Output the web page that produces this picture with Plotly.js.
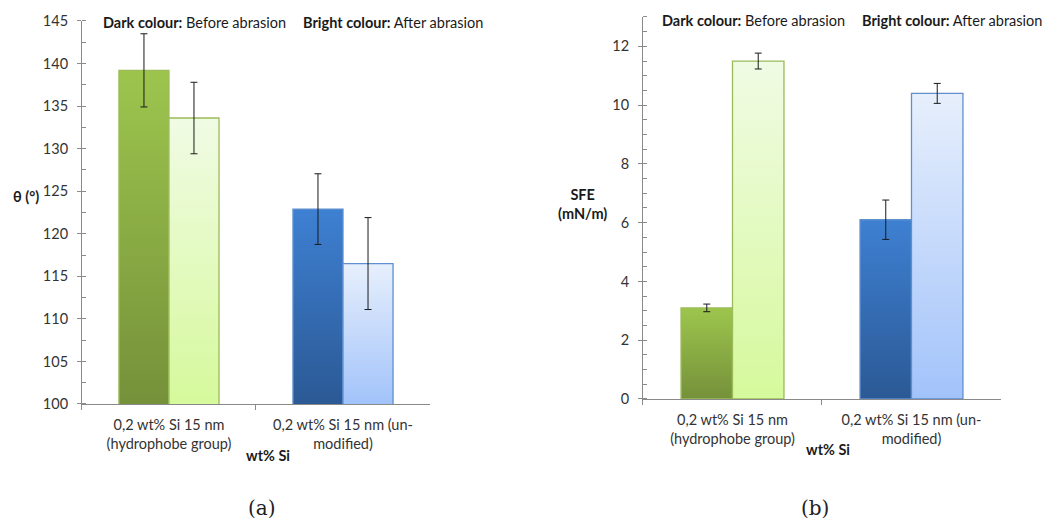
<!DOCTYPE html>
<html>
<head>
<meta charset="utf-8">
<script src="https://cdn.plot.ly/plotly-3.0.1.min.js"></script>
<style>
  html, body { margin: 0; padding: 0; background: #ffffff; }
  #chart { width: 1044px; height: 521px; }
</style>
</head>
<body>
<div id="chart"></div>
<script>
// Silica coatings: water contact angle and surface free energy, before and after abrasion
const categories = [
  '0,2 wt% Si 15 nm<br>(hydrophobe group)',
  '0,2 wt% Si 15 nm (un-<br>modified)'
];

// (a) contact angle θ (°)
const angleBefore    = [139.2, 122.9];
const angleBeforeErr = [4.3, 4.15];
const angleAfter     = [133.6, 116.5];
const angleAfterErr  = [4.2, 5.4];

// (b) surface free energy (mN/m)
const sfeBefore    = [3.1, 6.1];
const sfeBeforeErr = [0.13, 0.67];
const sfeAfter     = [11.5, 10.4];
const sfeAfterErr  = [0.27, 0.34];

// Vertical gradients [top, bottom] per group: dark = before, bright = after
const darkShades   = [['#9dc54d', '#75913a'], ['#3e80d2', '#2b5995']];
const brightShades = [['#f0fbe4', '#d6f99c'], ['#e7effc', '#a2c3fa']];
const outlineColors = ['#9bbb59', '#5f8fcf'];

const FONT = 'Lato, "Open Sans", sans-serif';
const FS = 14.5;
const TEXT = '#333333';
const AXIS = '#8a8a8a';

function barTrace(y, err, shades, xa, ya, name) {
  return {
    type: 'bar', x: categories, y: y, name: name, xaxis: xa, yaxis: ya,
    marker: {
      color: shades.map(s => s[0]),
      line: { color: outlineColors, width: 1.3 }
    },
    error_y: { type: 'data', array: err, visible: true, color: '#1a1a1a', thickness: 1, width: 3.5 },
    hoverinfo: 'y', showlegend: false
  };
}

const traces = [
  barTrace(angleBefore, angleBeforeErr, darkShades, 'x', 'y', 'Before abrasion'),
  barTrace(angleAfter, angleAfterErr, brightShades, 'x', 'y', 'After abrasion'),
  barTrace(sfeBefore, sfeBeforeErr, darkShades, 'x2', 'y2', 'Before abrasion'),
  barTrace(sfeAfter, sfeAfterErr, brightShades, 'x2', 'y2', 'After abrasion')
];
const shadesByTrace = [darkShades, brightShades, darkShades, brightShades];

const xCommon = {
  type: 'category', showline: true, linecolor: AXIS, linewidth: 1,
  ticks: 'outside', tickson: 'boundaries', ticklen: 5, tickcolor: AXIS,
  ticklabelstandoff: 8,
  showgrid: false, zeroline: false, fixedrange: true,
  tickfont: { family: FONT, size: FS, color: TEXT }
};
const yCommon = {
  showline: true, linecolor: AXIS, linewidth: 1,
  ticks: 'outside', ticklen: 4, tickcolor: AXIS,
  ticklabelstandoff: 6,
  showgrid: false, zeroline: false, fixedrange: true,
  tickfont: { family: FONT, size: FS, color: TEXT }
};
// inner half of the crossing major ticks
const yCross = {
  showline: false, showgrid: false, zeroline: false, showticklabels: false,
  ticks: 'inside', ticklen: 4, tickcolor: AXIS, fixedrange: true, side: 'left'
};

const layout = {
  width: 1044, height: 521, autosize: false,
  margin: { l: 0, r: 0, t: 0, b: 0 },
  paper_bgcolor: '#ffffff', plot_bgcolor: 'rgba(0,0,0,0)',
  barmode: 'group', bargap: 0.425, bargroupgap: 0,
  font: { family: FONT, size: FS, color: TEXT },
  xaxis: Object.assign({}, xCommon, { domain: [0.0785, 0.4119], anchor: 'y' }),
  yaxis: Object.assign({}, yCommon, {
    domain: [0.2246, 0.9597], anchor: 'x', range: [100, 145], dtick: 5, tick0: 100,
    minor: { dtick: 2.5, ticks: 'inside', ticklen: 4, tickcolor: AXIS, showgrid: false }
  }),
  yaxis3: Object.assign({}, yCross, { overlaying: 'y', anchor: 'x', range: [100, 145], dtick: 5, tick0: 100 }),
  xaxis2: Object.assign({}, xCommon, { domain: [0.6159, 0.9588], anchor: 'y2' }),
  yaxis2: Object.assign({}, yCommon, {
    domain: [0.2342, 0.9674], anchor: 'x2', range: [0, 13], dtick: 2, tick0: 0,
    minor: { dtick: 0.5, ticks: 'inside', ticklen: 4, tickcolor: AXIS, showgrid: false }
  }),
  yaxis4: Object.assign({}, yCross, { overlaying: 'y2', anchor: 'x2', range: [0, 13], dtick: 2, tick0: 0 }),
  annotations: [
    { text: '<b>Dark colour:</b> Before abrasion', x: 0.0967, y: 0.956 },
    { text: '<b>Bright colour:</b> After abrasion', x: 0.2883, y: 0.956 },
    { text: '<b>Dark colour:</b> Before abrasion', x: 0.6322, y: 0.960 },
    { text: '<b>Bright colour:</b> After abrasion', x: 0.8238, y: 0.960 },
    { text: '<b>θ (°)</b>', x: 0.0249, y: 0.622, xanchor: 'center' },
    { text: '<b>SFE<br>(mN/m)</b>', x: 0.5584, y: 0.608, xanchor: 'center' },
    { text: '<b>wt% Si</b>', x: 0.2567, y: 0.125, xanchor: 'center' },
    { text: '<b>wt% Si</b>', x: 0.7931, y: 0.138, xanchor: 'center' },
    { text: '(a)', x: 0.2510, y: 0.025, xanchor: 'center',
      font: { family: '"DejaVu Serif", "Liberation Serif", serif', size: 20, color: '#222222' } },
    { text: '(b)', x: 0.7807, y: 0.025, xanchor: 'center',
      font: { family: '"DejaVu Serif", "Liberation Serif", serif', size: 20, color: '#222222' } }
  ].map(a => Object.assign({
    xref: 'paper', yref: 'paper', xanchor: 'left', yanchor: 'middle', showarrow: false,
    font: { family: FONT, size: FS, color: '#1a1a1a' }
  }, a))
};

const gd = document.getElementById('chart');

// Give each bar a top-to-bottom gradient over its visible part
function shadeBars() {
  const NS = 'http://www.w3.org/2000/svg';
  const svg = gd.querySelector('.main-svg');
  let defs = svg.querySelector('defs');
  if (!defs) { defs = document.createElementNS(NS, 'defs'); svg.prepend(defs); }
  gd.querySelectorAll('g.trace.bars').forEach(g => {
    const cd = g.__data__;
    const tr = cd[0].trace;
    const ya = gd._fullLayout[tr.yaxis === 'y' ? 'yaxis' : 'yaxis' + tr.yaxis.slice(1)];
    const shades = shadesByTrace[tr.index];
    g.querySelectorAll('g.point').forEach(pt => {
      const i = pt.__data__.i;
      const path = pt.querySelector('path');
      const box = path.getBBox();
      const top = Math.max(box.y, 0);
      const bottom = Math.min(box.y + box.height, ya._length);
      const id = 'bar-shade-' + tr.index + '-' + i;
      const old = defs.querySelector('#' + id);
      if (old) old.remove();
      const lg = document.createElementNS(NS, 'linearGradient');
      lg.setAttribute('id', id);
      lg.setAttribute('gradientUnits', 'userSpaceOnUse');
      lg.setAttribute('x1', 0); lg.setAttribute('x2', 0);
      lg.setAttribute('y1', top); lg.setAttribute('y2', bottom);
      [[0, shades[i][0]], [1, shades[i][1]]].forEach(([o, c]) => {
        const s = document.createElementNS(NS, 'stop');
        s.setAttribute('offset', o);
        s.setAttribute('stop-color', c);
        lg.appendChild(s);
      });
      defs.appendChild(lg);
      path.style.fill = 'url(#' + id + ')';
    });
  });
}

Plotly.newPlot(gd, traces, layout, { displayModeBar: false, staticPlot: true }).then(shadeBars);
</script>
</body>
</html>
